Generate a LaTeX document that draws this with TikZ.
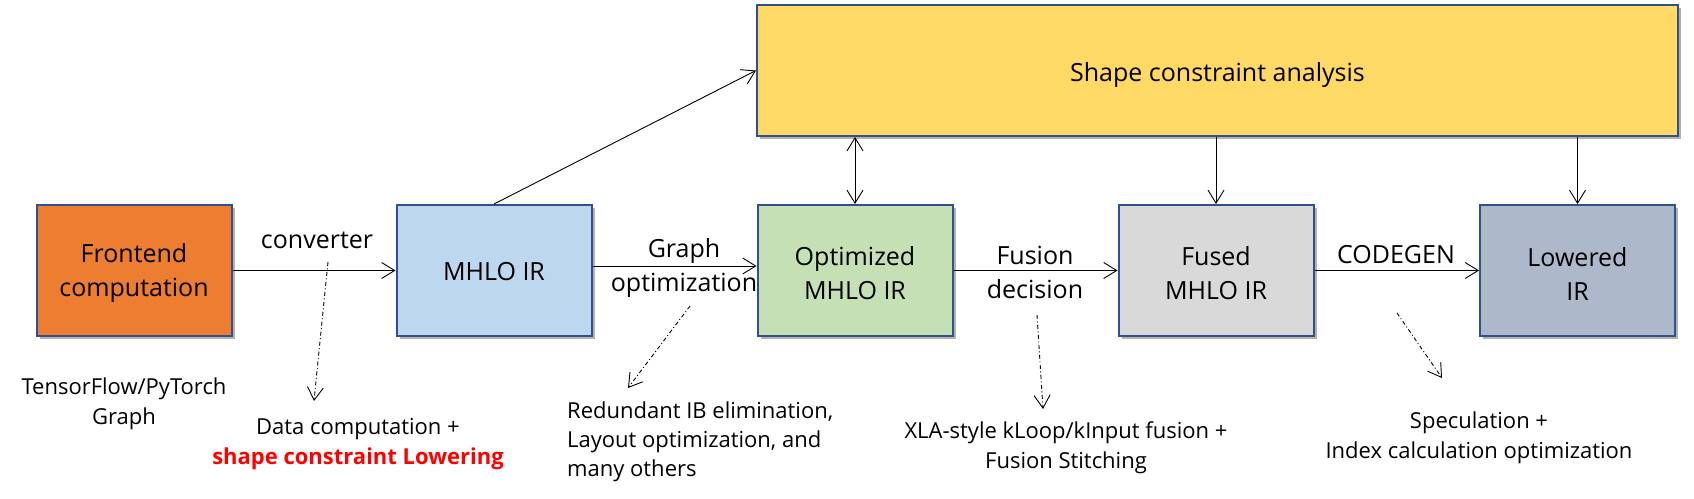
\documentclass[tikz,border=0pt]{standalone}
\usepackage{fontspec}
\setmainfont{Open Sans}
\usetikzlibrary{arrows.meta,shadows}
\definecolor{cOrange}{HTML}{ED7D31}
\definecolor{cBlue}{HTML}{BDD7EE}
\definecolor{cGreen}{HTML}{C5E0B4}
\definecolor{cGray}{HTML}{D9D9D9}
\definecolor{cSlate}{HTML}{ADB9CA}
\definecolor{cYellow}{HTML}{FFD966}
\definecolor{cBorder}{HTML}{2F528F}
\definecolor{cRed}{HTML}{FF0000}
\tikzset{
  box/.style={draw=cBorder, line width=2pt, inner sep=0pt,
    minimum width=195pt, minimum height=131pt,
    drop shadow={shadow xshift=3pt, shadow yshift=-3pt, fill=black, opacity=0.3}},
  btxt/.style={inner sep=0pt, align=center, font=\fontsize{25}{34}\selectfont},
  lbl/.style={inner sep=0pt, align=center, font=\fontsize{25}{34}\selectfont},
  desc/.style={inner sep=0pt, align=center, font=\fontsize{22}{30}\selectfont},
  tip/.style={},
  conn/.style={line width=0.9pt, -{Straight Barb[length=13pt,width=16pt,line width=0.9pt]}},
  biconn/.style={line width=0.9pt, {Straight Barb[length=13pt,width=16pt,line width=0.9pt]}-{Straight Barb[length=13pt,width=16pt,line width=0.9pt]}},
  dconn/.style={line width=0.9pt, dash pattern=on 4pt off 2.5pt on 1pt off 2.5pt,
    -{Straight Barb[length=13pt,width=16pt,line width=0.9pt]}}
}
\begin{document}
\begin{tikzpicture}[x=1pt,y=-1pt]
\useasboundingbox (0,0) rectangle (1694,498);
% boxes
\node[box, fill=cOrange] (fe) at (134,270.5) {};
\node[box, fill=cBlue] (mhlo) at (494,270.5) {};
\node[box, fill=cGreen] (opt) at (855,270.5) {};
\node[box, fill=cGray] (fused) at (1216,270.5) {};
\node[box, fill=cSlate] (low) at (1577.5,270.5) {};
\node[box, fill=cYellow, minimum width=921pt] (yel) at (1217.5,70.5) {};
% box texts
\node[btxt] (fe-t) at ([yshift=-3pt]fe.center) {Frontend\\computation};
\node[btxt] (mhlo-t) at ([yshift=-1.5pt]mhlo.center) {MHLO IR};
\node[btxt] (opt-t) at ([yshift=-3pt]opt.center) {Optimized\\MHLO IR};
\node[btxt] (fused-t) at ([yshift=-3pt]fused.center) {Fused\\MHLO IR};
\node[btxt] (low-t) at ([yshift=-3pt]low.center) {Lowered\\IR};
\node[btxt] (yel-t) at ([yshift=-5pt]yel.center) {Shape constraint analysis};
% main connectors
\draw[conn] (fe.east) -- (mhlo.west);
\draw[conn] ([yshift=4.5pt]mhlo.east) -- ([yshift=4.5pt]opt.west);
\draw[conn] (opt.east) -- (fused.west);
\draw[conn] (fused.east) -- (low.west);
\draw[conn] (mhlo.north) -- (yel.west);
\draw[biconn] (yel.south -| opt.north) -- (opt.north);
\draw[conn] (yel.south -| fused.north) -- (fused.north);
\draw[conn] (yel.south -| low.north) -- (low.north);
% arrow labels
\node[lbl] (lconv) at (317,240) {converter};
\node[lbl] (lgraph) at (684,268) {Graph\\optimization};
\node[lbl] (lfus) at (1035,272) {Fusion\\decision};
\node[lbl] (lcode) at (1396,255) {CODEGEN};
% descriptions
\node[desc] (dtf) at (124,404) {TensorFlow/PyTorch\\Graph};
\node[desc] (ddc) at (358,444) {Data computation +\\{\bfseries\color{cRed}shape constraint Lowering}};
\node[desc, align=left, anchor=west, font=\fontsize{22}{29}\selectfont] (dred) at (567,442) {Redundant IB elimination,\\Layout optimization, and\\many others};
\node[desc] (dxla) at (1066,447.5) {XLA-style kLoop/kInput fusion +\\Fusion Stitching};
\node[desc] (dspec) at (1479,437.5) {Speculation +\\Index calculation optimization};
% dashed pointers
\coordinate (a1) at (328,262); \coordinate (b1) at (314,401);
\coordinate (a2) at (690,306); \coordinate (b2) at (628,388);
\coordinate (a3) at (1037,315); \coordinate (b3) at (1043,409);
\coordinate (a4) at (1397,313); \coordinate (b4) at (1442,378);
\draw[dconn] (a1) -- (b1);
\draw[dconn] (a2) -- (b2);
\draw[dconn] (a3) -- (b3);
\draw[dconn] (a4) -- (b4);
\end{tikzpicture}
\end{document}
